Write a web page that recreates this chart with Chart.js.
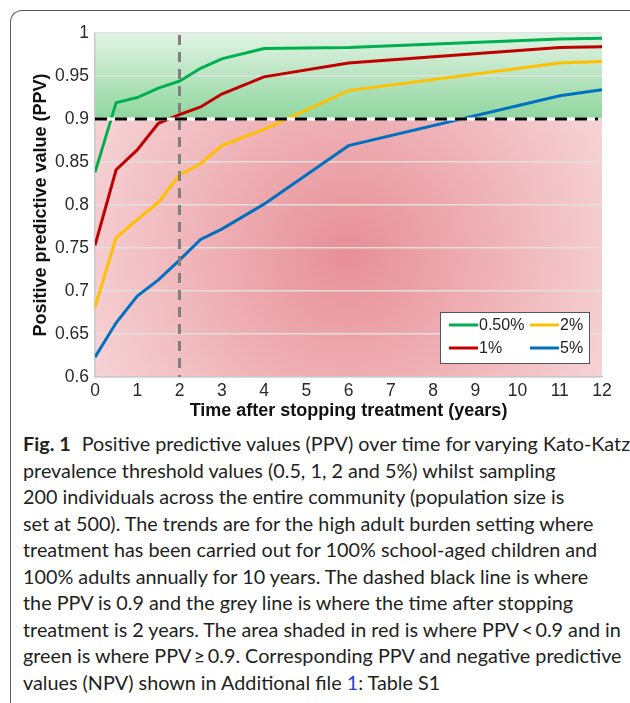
<!DOCTYPE html>
<html>
<head>
<meta charset="utf-8">
<script src="https://cdn.jsdelivr.net/npm/chart.js@4.4.0/dist/chart.umd.min.js"></script>
<style>
  body { margin: 0; background: #fff; width: 630px; height: 703px; overflow: hidden; position: relative; }
  #frame { position: absolute; left: 10px; top: 10px; width: 640px; height: 720px;
    border-left: 1.5px solid #5a5a5a; border-top: 1.5px solid #5a5a5a; border-top-left-radius: 12px; }
  #wrap { position: absolute; left: 0; top: 0; width: 630px; height: 425px; }
  #caption { position: absolute; left: 23px; top: 430px; font-family: Lato, "Open Sans", sans-serif;
    font-size: 19.8px; line-height: 26.5px; color: #231f20; white-space: nowrap; letter-spacing: 0px; }
  #caption b { font-weight: bold; margin-right: 6px; }
  #caption a { color: #2a3fd6; text-decoration: none; }
</style>
</head>
<body>
<div id="frame"></div>
<div id="wrap"><canvas id="ppvChart"></canvas></div>
<div id="caption">
<b>Fig. 1</b> Positive predictive values (PPV) over time for varying Kato-Katz<br>
prevalence threshold values (0.5, 1, 2 and 5%) whilst sampling<br>
200 individuals across the entire community (population size is<br>
set at 500). The trends are for the high adult burden setting where<br>
treatment has been carried out for 100% school-aged children and<br>
100% adults annually for 10 years. The dashed black line is where<br>
the PPV is 0.9 and the grey line is where the time after stopping<br>
treatment is 2 years. The area shaded in red is where PPV&thinsp;&lt;&thinsp;0.9 and in<br>
green is where PPV&thinsp;&ge;&thinsp;0.9. Corresponding PPV and negative predictive<br>
values (NPV) shown in Additional file <a>1</a>: Table S1
</div>
<script>
// years after stopping treatment
const years = [0, 0.5, 1, 1.5, 2, 2.5, 3, 4, 6, 11, 12];

// PPV for each Kato-Katz prevalence threshold
const ppv05 = [0.838, 0.919, 0.925, 0.936, 0.944, 0.959, 0.970, 0.982, 0.983, 0.993, 0.994];
const ppv1  = [0.753, 0.841, 0.864, 0.895, 0.905, 0.914, 0.929, 0.949, 0.965, 0.983, 0.984];
const ppv2  = [0.681, 0.762, 0.783, 0.803, 0.835, 0.848, 0.869, 0.888, 0.933, 0.965, 0.967];
const ppv5  = [0.623, 0.663, 0.694, 0.713, 0.736, 0.760, 0.772, 0.801, 0.869, 0.927, 0.934];

const seriesLabels = ["0.50%", "1%", "2%", "5%"];
const seriesColors = ["#00b050", "#c00000", "#ffc000", "#0070c0"];

const ppvThreshold = 0.9;
const timeMark = 2;

const toPoints = arr => arr.map((v, i) => ({ x: years[i], y: v }));

// red / green shaded background
const shading = {
    id: "shading",
    beforeDraw(chart) {
        const { ctx, chartArea: a, scales } = chart;
        const yT = scales.y.getPixelForValue(ppvThreshold);
        ctx.save();
        let g = ctx.createLinearGradient(0, a.top, 0, yT);
        g.addColorStop(0, "#e2f3e5");
        g.addColorStop(1, "#8fd69e");
        ctx.fillStyle = g;
        ctx.fillRect(a.left, a.top, a.right - a.left, yT - a.top);
        const cx = scales.x.getPixelForValue(6), cy = scales.y.getPixelForValue(0.745);
        let r = ctx.createRadialGradient(cx, cy, 0, cx, cy, 320);
        r.addColorStop(0, "#e78f97");
        r.addColorStop(1, "#f8dcde");
        ctx.fillStyle = r;
        ctx.fillRect(a.left, yT, a.right - a.left, a.bottom - yT);
        ctx.restore();
    }
};

// reference lines at PPV 0.9 and 2 years
const refLines = {
    id: "refLines",
    afterDatasetsDraw(chart) {
        const { ctx, chartArea: a, scales } = chart;
        const yT = scales.y.getPixelForValue(ppvThreshold);
        const xT = scales.x.getPixelForValue(timeMark);
        ctx.save();
        ctx.lineWidth = 3;
        ctx.strokeStyle = "#808080";
        ctx.setLineDash([10, 7]);
        ctx.beginPath();
        ctx.moveTo(xT, a.top + 2);
        ctx.lineTo(xT, a.bottom);
        ctx.stroke();
        ctx.strokeStyle = "#ffffff";
        ctx.setLineDash([]);
        ctx.beginPath();
        ctx.moveTo(a.left, yT);
        ctx.lineTo(a.right - 4, yT);
        ctx.stroke();
        ctx.strokeStyle = "#000000";
        ctx.setLineDash([12, 8]);
        ctx.beginPath();
        ctx.moveTo(a.left, yT);
        ctx.lineTo(a.right - 4, yT);
        ctx.stroke();
        ctx.restore();
    }
};

// boxed legend, two columns, inside the plot
const boxLegend = {
    id: "boxLegend",
    afterDraw(chart) {
        const { ctx, chartArea: a } = chart;
        const w = 149, h = 51;
        const x0 = a.right - 13 - w, y0 = a.bottom - 14 - h;
        ctx.save();
        ctx.fillStyle = "#fff";
        ctx.fillRect(x0, y0, w, h);
        ctx.strokeStyle = "#555";
        ctx.lineWidth = 1;
        ctx.strokeRect(x0 + 0.5, y0 + 0.5, w, h);
        ctx.font = "16px 'Liberation Sans', Arial, sans-serif";
        ctx.textBaseline = "middle";
        chart.data.datasets.forEach((ds, i) => {
            const col = Math.floor(i / 2), row = i % 2;
            const lx = x0 + 9 + col * 81, ly = y0 + 13 + row * 23;
            ctx.strokeStyle = ds.borderColor;
            ctx.lineWidth = 3;
            ctx.beginPath();
            ctx.moveTo(lx, ly);
            ctx.lineTo(lx + 29, ly);
            ctx.stroke();
            ctx.fillStyle = "#222";
            ctx.fillText(ds.label, lx + 30, ly + 1);
        });
        ctx.restore();
    }
};

const tickFont = { family: "'Liberation Sans', Arial, sans-serif", size: 17.5 };
const titleFont = { family: "'Liberation Sans', Arial, sans-serif", size: 18, weight: "bold" };

new Chart(document.getElementById("ppvChart"), {
    type: "line",
    data: {
        datasets: [ppv05, ppv1, ppv2, ppv5].map((arr, i) => ({
            label: seriesLabels[i],
            data: toPoints(arr),
            borderColor: seriesColors[i],
            borderWidth: 3,
            pointRadius: 0,
            tension: 0,
            fill: false
        }))
    },
    options: {
        responsive: true,
        maintainAspectRatio: false,
        animation: false,
        layout: { padding: { left: 28, right: 28, top: 33, bottom: 0 } },
        plugins: { legend: { display: false }, tooltip: { enabled: false } },
        scales: {
            x: {
                type: "linear", min: 0, max: 12,
                ticks: { stepSize: 1, color: "#2a2a2a", font: tickFont, padding: 4 },
                grid: { display: false, drawTicks: false },
                border: { color: "#c8c8c8", width: 1.5 },
                title: { display: true, text: "Time after stopping treatment (years)", color: "#111",
                    font: titleFont, padding: { top: 0, bottom: 3 } },
                afterFit(s) { s.height = 48; }
            },
            y: {
                min: 0.6, max: 1,
                ticks: { stepSize: 0.05, color: "#2a2a2a", font: tickFont, padding: 6,
                    callback: v => String(Number(v.toFixed(2))) },
                grid: { color: "rgba(225,225,225,0.95)", lineWidth: 1.5, drawTicks: false },
                border: { color: "#c8c8c8", width: 1.5 },
                title: { display: true, text: "Positive predictive value (PPV)", color: "#111",
                    font: titleFont, padding: { top: 2, bottom: 0 } },
                afterFit(s) { s.width = 67; }
            }
        }
    },
    plugins: [shading, refLines, boxLegend]
});
</script>
</body>
</html>
